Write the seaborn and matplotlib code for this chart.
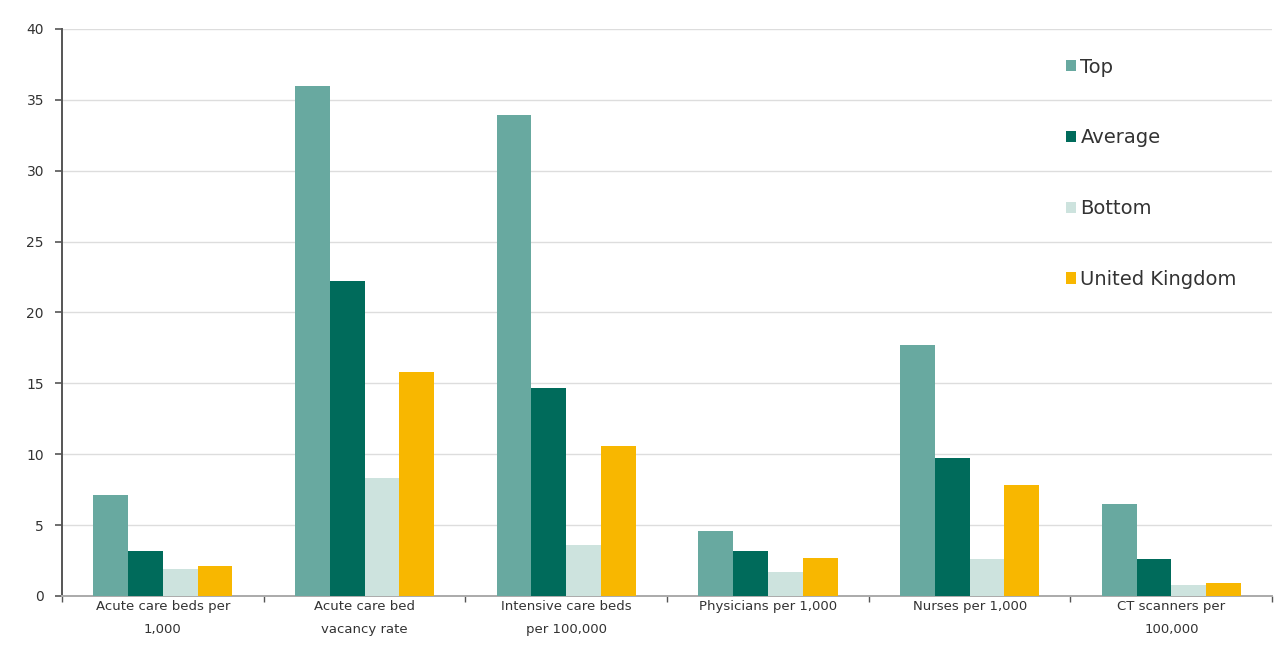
import matplotlib
matplotlib.use("Agg")
import matplotlib.pyplot as plt
import seaborn as sns
import pandas as pd

categories = ["Acute care beds per\n1,000", "Acute care bed\nvacancy rate",
              "Intensive care beds\nper 100,000", "Physicians per 1,000",
              "Nurses per 1,000", "CT scanners per\n100,000"]
series = ["Top", "Average", "Bottom", "United Kingdom"]
top = [7.1, 36.0, 33.9, 4.6, 17.7, 6.5]
average = [3.2, 22.2, 14.7, 3.2, 9.7, 2.6]
bottom = [1.9, 8.3, 3.6, 1.7, 2.6, 0.8]
uk = [2.1, 15.8, 10.6, 2.7, 7.8, 0.9]
yticks = [0, 5, 10, 15, 20, 25, 30, 35, 40]
colors = ["#68a9a0", "#006b5b", "#cde3de", "#f8b700"]

rows = []
for s, vals in zip(series, [top, average, bottom, uk]):
    for c, v in zip(categories, vals):
        rows.append({"category": c, "series": s, "value": v})
df = pd.DataFrame(rows)

sns.set_theme(style="white")
plt.rcParams['font.family'] = ['DejaVu Sans']

fig = plt.figure(figsize=(12.76, 6.56), dpi=100)
ax = fig.add_axes([0.0486, 0.0915, 0.9484, 0.8645])

sns.barplot(data=df, x="category", y="value", hue="series", order=categories,
            hue_order=series, palette=colors, width=0.69, gap=0, saturation=1,
            errorbar=None, ax=ax, edgecolor="none", linewidth=0, zorder=3)

ax.set_ylim(0, 40)
ax.set_xlim(-0.5, len(categories) - 0.5)
ax.set_yticks(yticks)
ax.set_yticklabels([str(t) for t in yticks], fontsize=10, color="#333333")
ax.set_xlabel("")
ax.set_ylabel("")
ax.tick_params(axis="x", labelsize=9.5, colors="#333333", length=0, pad=3)
ax.tick_params(axis="y", length=5, width=1.2, color="#555555", pad=8, left=True)
ax.set_xticks(range(len(categories)))
ax.set_xticklabels(categories, fontsize=9.5, color="#333333", linespacing=2.0)
# category boundary ticks
ax.set_xticks([i - 0.5 for i in range(len(categories) + 1)], minor=True)
ax.tick_params(axis="x", which="minor", length=4, width=1, color="#555555", bottom=True)

ax.yaxis.grid(True, color="#dddddd", linewidth=1, zorder=0)
ax.set_axisbelow(True)
for side in ["top", "right"]:
    ax.spines[side].set_visible(False)
ax.spines["left"].set_color("#555555")
ax.spines["left"].set_linewidth(1.4)
ax.spines["bottom"].set_color("#aaaaaa")
ax.spines["bottom"].set_linewidth(1.4)

leg = ax.legend(loc="upper left", bbox_to_anchor=(0.815, 0.98), frameon=False,
                fontsize=14, labelspacing=2.66, handlelength=0.5, handleheight=0.5,
                handletextpad=0.25, title=None)
for t in leg.get_texts():
    t.set_color("#333333")

fig.savefig("out.png", dpi=100)
